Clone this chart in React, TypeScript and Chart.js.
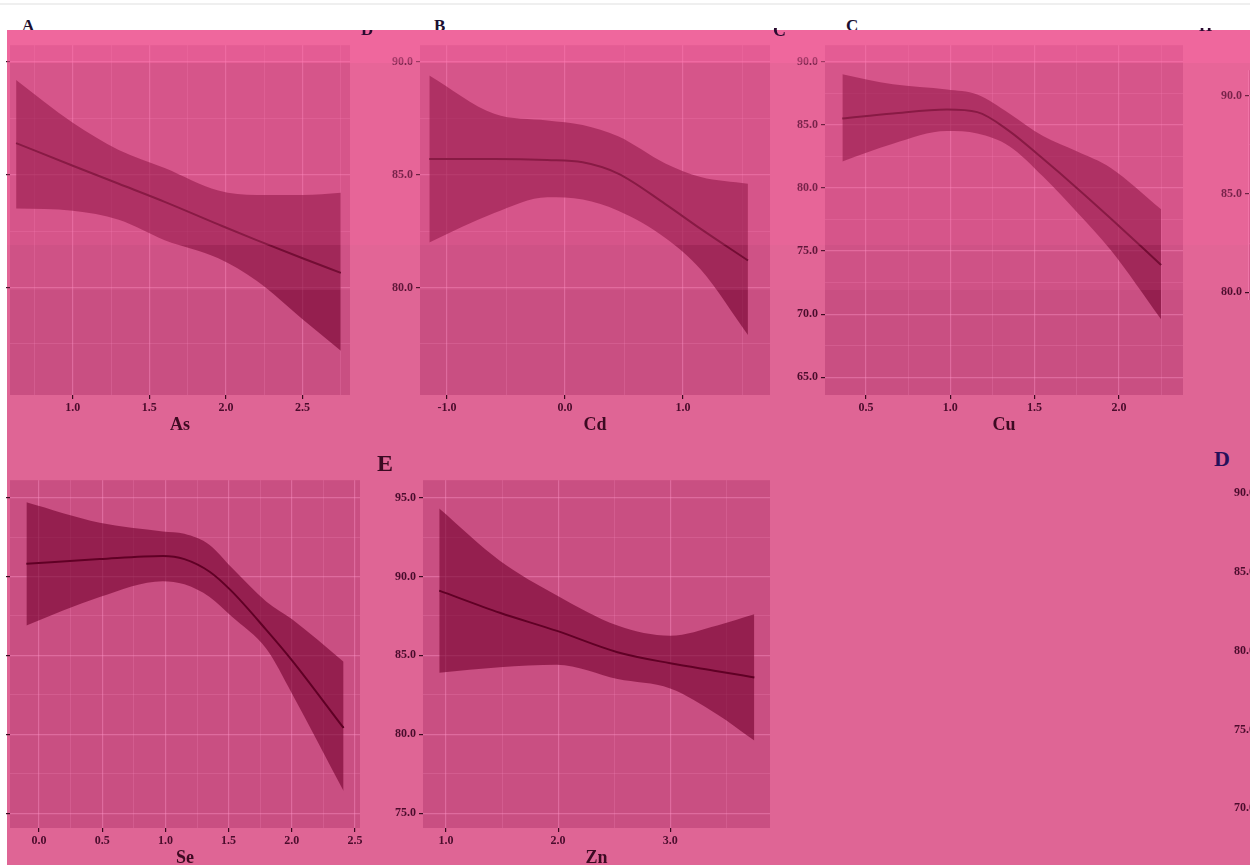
import React, { useEffect, useRef } from 'react';
import { Chart, registerables } from 'chart.js';

Chart.register(...registerables);

// ---- data ----
const asX = [0.63, 1.0, 1.3, 1.6, 1.95, 2.2, 2.5, 2.75];
const asFit = [86.4, 85.4, 84.6, 83.8, 82.8, 82.1, 81.3, 80.65];
const asUpper = [89.2, 87.3, 86.1, 85.3, 84.3, 84.1, 84.1, 84.2];
const asLower = [83.5, 83.4, 83.0, 82.1, 81.3, 80.3, 78.6, 77.2];

const cdX = [-1.15, -0.6, -0.15, 0.15, 0.45, 0.85, 1.15, 1.55];
const cdFit = [85.7, 85.7, 85.65, 85.55, 85.05, 83.7, 82.6, 81.2];
const cdUpper = [89.4, 87.7, 87.4, 87.2, 86.7, 85.5, 84.9, 84.6];
const cdLower = [82.0, 83.3, 84.0, 83.9, 83.4, 82.2, 80.8, 77.9];

const cuX = [0.36, 0.66, 0.98, 1.16, 1.35, 1.55, 1.75, 1.95, 2.25];
const cuFit = [85.5, 85.9, 86.2, 86.0, 84.5, 82.3, 80.0, 77.6, 73.9];
const cuUpper = [89.0, 88.2, 87.8, 87.4, 85.9, 84.1, 82.9, 81.6, 78.3];
const cuLower = [82.1, 83.5, 84.5, 84.3, 83.3, 80.9, 78.1, 75.1, 69.6];

const seX = [-0.1, 0.48, 0.98, 1.15, 1.35, 1.52, 1.8, 2.0, 2.41];
const seFit = [90.8, 91.1, 91.3, 91.1, 90.3, 89.1, 86.6, 84.7, 80.4];
const seUpper = [94.7, 93.4, 92.85, 92.7, 92.0, 90.6, 88.4, 87.3, 84.6];
const seLower = [86.9, 88.7, 89.7, 89.5, 88.7, 87.5, 85.4, 82.6, 76.4];

const znX = [0.94, 1.48, 1.99, 2.53, 3.0, 3.42, 3.75];
const znFit = [89.1, 87.7, 86.55, 85.2, 84.5, 84.0, 83.6];
const znUpper = [94.3, 91.0, 88.8, 86.9, 86.25, 86.9, 87.6];
const znLower = [83.9, 84.25, 84.4, 83.5, 82.9, 81.25, 79.6];

const emptyX: number[] = [];
const emptyY: number[] = [];

// ---- styles ----
const PAGE_BG = '#DF6595';
const PLOT_BG = '#C94F82';
const BAND = 'rgba(115,0,45,0.6)';
const LINE = '#45001A';
const GRID_MAJOR = 'rgba(255,150,200,0.4)';
const GRID_MINOR = 'rgba(255,150,200,0.24)';
const TICK = '#3a0a20';
const LABEL = '#4a0c2c';
const FONT = "'Liberation Serif', 'DejaVu Serif', serif";

type PanelCfg = {
  px: number; py: number; pw: number; ph: number;
  xMin: number; xMax: number; xMajor: number; xMinor: number;
  yMin: number; yMax: number; yMajor: number; yMinor: number;
  showYLabels: boolean; showX: boolean; title: string;
  xs: number[]; fit: number[]; upper: number[]; lower: number[];
};

const isMajor = (v: number, m: number) => Math.abs(v / m - Math.round(v / m)) < 1e-6;
const fmt = (v: number) => (Math.abs(v) < 1e-9 ? 0 : v).toFixed(1);

const YW = 45, XH = 45, TP = 5, RP = 5;

function Panel({ cfg }: { cfg: PanelCfg }) {
  const ref = useRef<HTMLCanvasElement>(null);
  const W = YW + cfg.pw + RP;
  const H = TP + cfg.ph + XH;
  useEffect(() => {
    const pts = (ys: number[]) => cfg.xs.map((x, i) => ({ x, y: ys[i] }));
    const common = { pointRadius: 0, tension: 0.4, cubicInterpolationMode: 'monotone' as const };
    const bg = {
      id: 'plotBg',
      beforeDraw(chart: any) {
        const a = chart.chartArea;
        if (!a) return;
        const c = chart.ctx;
        c.save();
        c.fillStyle = PLOT_BG;
        c.fillRect(a.left, a.top, a.right - a.left, a.bottom - a.top);
        c.restore();
      },
    };
    const chart = new Chart(ref.current as HTMLCanvasElement, {
      type: 'line',
      data: {
        datasets: [
          { data: pts(cfg.upper), fill: '+1', backgroundColor: BAND, borderWidth: 0, borderColor: 'rgba(0,0,0,0)', ...common },
          { data: pts(cfg.lower), fill: false, borderWidth: 0, borderColor: 'rgba(0,0,0,0)', ...common },
          { data: pts(cfg.fit), fill: false, borderWidth: 2, borderColor: LINE, ...common },
        ],
      },
      options: {
        animation: false,
        responsive: false,
        devicePixelRatio: 1,
        layout: { padding: { left: 0, right: RP, top: TP, bottom: 0 }, autoPadding: false },
        plugins: { legend: { display: false }, tooltip: { enabled: false } },
        scales: {
          x: {
            type: 'linear',
            min: cfg.xMin,
            max: cfg.xMax,
            afterFit: (s: any) => { s.height = XH; },
            border: { display: false },
            grid: {
              color: (ctx: any) => (ctx.tick && isMajor(ctx.tick.value, cfg.xMajor) ? GRID_MAJOR : GRID_MINOR),
              lineWidth: (ctx: any) => (ctx.tick && isMajor(ctx.tick.value, cfg.xMajor) ? 1.2 : 0.8),
              tickLength: 4,
              tickColor: (ctx: any) => (cfg.showX && ctx.tick && isMajor(ctx.tick.value, cfg.xMajor) ? TICK : 'rgba(0,0,0,0)'),
            },
            ticks: {
              stepSize: cfg.xMinor,
              includeBounds: false,
              autoSkip: false,
              maxRotation: 0,
              padding: 2,
              color: LABEL,
              font: { family: FONT, weight: 'bold', size: 12 },
              callback: (v: any) => (cfg.showX && isMajor(Number(v), cfg.xMajor) ? fmt(Number(v)) : ''),
            },
            title: {
              display: cfg.showX,
              text: cfg.title,
              color: '#3d0a22',
              font: { family: FONT, weight: 'bold', size: 18 },
              padding: { top: 0, bottom: 4 },
            },
          },
          y: {
            type: 'linear',
            min: cfg.yMin,
            max: cfg.yMax,
            afterFit: (s: any) => { s.width = YW; },
            border: { display: false },
            grid: {
              color: (ctx: any) => (ctx.tick && isMajor(ctx.tick.value, cfg.yMajor) ? GRID_MAJOR : GRID_MINOR),
              lineWidth: (ctx: any) => (ctx.tick && isMajor(ctx.tick.value, cfg.yMajor) ? 1.2 : 0.8),
              tickLength: 4,
              tickColor: (ctx: any) => (ctx.tick && isMajor(ctx.tick.value, cfg.yMajor) ? TICK : 'rgba(0,0,0,0)'),
            },
            ticks: {
              stepSize: cfg.yMinor,
              includeBounds: false,
              autoSkip: false,
              padding: 3,
              color: LABEL,
              font: { family: FONT, weight: 'bold', size: 12 },
              callback: (v: any) =>
                cfg.showYLabels && isMajor(Number(v), cfg.yMajor) ? fmt(Number(v)) : '',
            },
          },
        },
      } as any,
      plugins: [bg],
    });
    return () => chart.destroy();
  }, []);
  return (
    <canvas
      ref={ref}
      width={W}
      height={H}
      style={{ position: 'absolute', left: cfg.px - YW, top: cfg.py - TP, width: W, height: H }}
    />
  );
}

const panels: PanelCfg[] = [
  { px: 10, py: 40, pw: 340, ph: 355, xMin: 0.59, xMax: 2.81, xMajor: 0.5, xMinor: 0.25,
    yMin: 75.24, yMax: 90.74, yMajor: 5, yMinor: 2.5, showYLabels: false, showX: true, title: 'As',
    xs: asX, fit: asFit, upper: asUpper, lower: asLower },
  { px: 420, py: 40, pw: 350, ph: 355, xMin: -1.229, xMax: 1.737, xMajor: 1, xMinor: 0.5,
    yMin: 75.24, yMax: 90.74, yMajor: 5, yMinor: 2.5, showYLabels: true, showX: true, title: 'Cd',
    xs: cdX, fit: cdFit, upper: cdUpper, lower: cdLower },
  { px: 825, py: 40, pw: 358, ph: 355, xMin: 0.257, xMax: 2.38, xMajor: 0.5, xMinor: 0.25,
    yMin: 63.6, yMax: 91.3, yMajor: 5, yMinor: 2.5, showYLabels: true, showX: true, title: 'Cu',
    xs: cuX, fit: cuFit, upper: cuUpper, lower: cuLower },
  { px: 1249, py: 65, pw: 300, ph: 235, xMin: 0, xMax: 1, xMajor: 1, xMinor: 0.5,
    yMin: 79.6, yMax: 91.3, yMajor: 5, yMinor: 2.5, showYLabels: true, showX: false, title: '',
    xs: emptyX, fit: emptyY, upper: emptyY, lower: emptyY },
  { px: 10, py: 475, pw: 350, ph: 353, xMin: -0.23, xMax: 2.54, xMajor: 0.5, xMinor: 0.25,
    yMin: 74.06, yMax: 96.1, yMajor: 5, yMinor: 2.5, showYLabels: false, showX: true, title: 'Se',
    xs: seX, fit: seFit, upper: seUpper, lower: seLower },
  { px: 423, py: 475, pw: 347, ph: 353, xMin: 0.795, xMax: 3.89, xMajor: 1, xMinor: 0.5,
    yMin: 74.06, yMax: 96.1, yMajor: 5, yMinor: 2.5, showYLabels: true, showX: true, title: 'Zn',
    xs: znX, fit: znFit, upper: znUpper, lower: znLower },
  { px: 1262, py: 475, pw: 300, ph: 353, xMin: 0, xMax: 1, xMajor: 1, xMinor: 0.5,
    yMin: 68.75, yMax: 90.8, yMajor: 5, yMinor: 2.5, showYLabels: true, showX: false, title: '',
    xs: emptyX, fit: emptyY, upper: emptyY, lower: emptyY },
];

function Letter({ text, x, y, size, color, clipTop = 0 }: { text: string; x: number; y: number; size: number; color: string; clipTop?: number }) {
  return (
    <div
      style={{
        position: 'absolute', left: x, top: y, fontFamily: FONT, fontWeight: 'bold',
        fontSize: size, lineHeight: 1, color, clipPath: `inset(${clipTop}px 0 0 0)`,
        pointerEvents: 'none', whiteSpace: 'nowrap',
      }}
    >
      {text}
    </div>
  );
}

export default function App() {
  return (
    <div style={{ position: 'absolute', left: 0, top: 0, width: 1250, height: 865, overflow: 'hidden', background: '#fff' }}>
      <div style={{ position: 'absolute', left: 0, top: 3, width: 1250, height: 2, background: '#efefef' }} />
      <Letter text="A" x={22} y={17} size={17} color="#1c1030" />
      <Letter text="B" x={434} y={17} size={17} color="#1c1030" />
      <Letter text="C" x={846} y={17} size={17} color="#1c1030" />
      <div style={{ position: 'absolute', left: 7, top: 30, width: 1243, height: 835, background: PAGE_BG }} />
      {panels.map((p, i) => (
        <Panel key={i} cfg={p} />
      ))}
      <div style={{ position: 'absolute', left: 7, top: 30, width: 1243, height: 33, background: 'rgba(255,105,165,0.5)', pointerEvents: 'none' }} />
      <div style={{ position: 'absolute', left: 7, top: 63, width: 1243, height: 182, background: 'rgba(255,105,165,0.25)', pointerEvents: 'none' }} />
      <div style={{ position: 'absolute', left: 7, top: 245, width: 1243, height: 45, background: 'rgba(255,105,165,0.12)', pointerEvents: 'none' }} />
      <Letter text="D" x={361} y={21} size={17} color="#2a0a30" clipTop={9} />
      <Letter text="C" x={773} y={21} size={18} color="#2a0a30" clipTop={7} />
      <Letter text="H" x={1199} y={17} size={17} color="#2a0a30" clipTop={11} />
      <Letter text="E" x={377} y={451} size={24} color="#3a0a22" />
      <Letter text="D" x={1214} y={448} size={22} color="#26105a" />
    </div>
  );
}
